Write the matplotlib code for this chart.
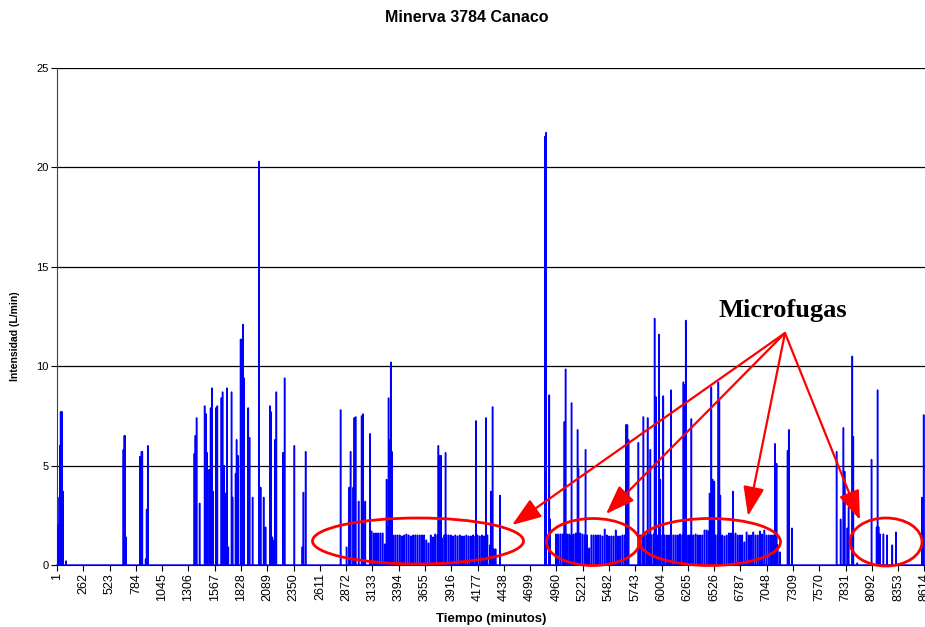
import matplotlib
matplotlib.use("Agg")
import matplotlib.pyplot as plt
from matplotlib.patches import Ellipse, FancyArrowPatch

# ---------------- data ----------------
title = "Minerva 3784 Canaco"
x_label = "Tiempo (minutos)"
y_label = "Intensidad (L/min)"
note_text = "Microfugas"

x_tick_labels = [1, 262, 523, 784, 1045, 1306, 1567, 1828, 2089, 2350, 2611,
                 2872, 3133, 3394, 3655, 3916, 4177, 4438, 4699, 4960, 5221,
                 5482, 5743, 6004, 6265, 6526, 6787, 7048, 7309, 7570, 7831,
                 8092, 8353, 8614]
y_ticks = [0, 5, 10, 15, 20, 25]

# consumption events (minute, L/min)
spike_minutes = [11, 21, 28, 35, 43, 48, 58, 88,
                 657, 667, 674, 683, 822, 837, 845, 879, 889, 901,
                 1362, 1372, 1385, 1415, 1465, 1478, 1488, 1510, 1524, 1537,
                 1547, 1577, 1590, 1630, 1643, 1657, 1670, 1686, 1699, 1732,
                 1742, 1772, 1782, 1795, 1822, 1832, 1845, 1855, 1897, 1911,
                 1941, 2004, 2021, 2051, 2070, 2113, 2123, 2136, 2153, 2163,
                 2176, 2243, 2259, 2355, 2434, 2445, 2468,
                 2815, 2874, 2900, 2914, 2940, 2950, 2964, 2994, 3024, 3037,
                 3059, 3106, 3271, 3281, 3291, 3304, 3314, 3324,
                 3785, 3798, 3811, 3857, 4159, 4258, 4272, 4297, 4307, 4317,
                 4324, 4337, 4354, 4397,
                 4844, 4854, 4886, 4893, 5036, 5049, 5108, 5168, 5176, 5247,
                 5649, 5662, 5674, 5771, 5821, 5864, 5890, 5933, 5947, 5977,
                 5988, 6018, 6095, 6218, 6231, 6243, 6297, 6479, 6495, 6509,
                 6525, 6565, 6575, 6585, 6711,
                 7128, 7144, 7253, 7266, 7296,
                 7740, 7780, 7807, 7820, 7846, 7859, 7895, 7905, 7945,
                 8087, 8137, 8147, 8157, 8171, 8204, 8240, 8292, 8329,
                 8588, 8605]
spike_values = [2.0, 3.4, 6.0, 7.7, 7.7, 7.7, 3.7, 0.2,
                5.8, 6.5, 6.5, 1.4, 5.45, 5.7, 5.7, 0.3, 2.8, 6.0,
                5.6, 6.5, 7.4, 3.1, 8.0, 7.6, 5.65, 4.8, 7.9, 8.9,
                3.7, 7.9, 8.0, 8.4, 8.7, 5.0, 3.6, 8.9, 0.9, 8.7,
                3.4, 4.6, 6.3, 5.5, 11.35, 11.35, 12.1, 9.4, 7.9, 6.4,
                3.4, 20.3, 3.9, 3.4, 1.9, 8.0, 7.7, 1.4, 1.25, 6.3,
                8.7, 5.65, 9.4, 6.0, 0.9, 3.65, 5.7,
                7.8, 0.9, 3.9, 5.7, 3.9, 7.4, 7.45, 3.2, 7.5, 7.6,
                3.2, 6.6, 4.3, 1.9, 8.4, 6.3, 10.2, 5.7,
                6.0, 5.5, 5.5, 5.65, 7.25, 7.4, 1.5, 1.0, 3.7, 3.2,
                7.95, 0.8, 0.8, 3.5,
                21.55, 21.75, 8.55, 2.3, 7.2, 9.85, 8.15, 6.8, 4.85, 5.8,
                7.05, 7.05, 6.3, 6.15, 7.45, 7.4, 5.8, 12.4, 8.45, 11.6,
                4.3, 8.5, 8.8, 9.2, 9.05, 12.3, 7.35, 3.6, 8.95, 4.3,
                4.2, 9.2, 8.3, 3.5, 3.7,
                6.1, 5.1, 5.75, 6.8, 1.85,
                5.7, 2.3, 6.9, 4.7, 1.85, 2.9, 10.5, 6.45, 0.1,
                5.3, 1.9, 8.8, 1.9, 1.55, 1.55, 1.5, 1.0, 1.65,
                3.4, 7.55]

# micro-leak pulses, first group (about 3100-4250 min)
leak1_minutes = [3122, 3144, 3166, 3188, 3210, 3232, 3254,
                 3336, 3358, 3380, 3402, 3424, 3446, 3468, 3490, 3512, 3534,
                 3556, 3578, 3600, 3622, 3644, 3666, 3688, 3710, 3732, 3754,
                 3776, 3822, 3844, 3866, 3888, 3910, 3932, 3954, 3976, 3998,
                 4020, 4042, 4064, 4086, 4108, 4130, 4152, 4174, 4196, 4218,
                 4240]
leak1_values = [1.7, 1.6, 1.6, 1.6, 1.6, 1.6, 1.05,
                1.5, 1.5, 1.5, 1.5, 1.45, 1.5, 1.55, 1.5, 1.45, 1.5,
                1.5, 1.5, 1.5, 1.5, 1.5, 1.25, 1.1, 1.5, 1.4, 1.55,
                1.5, 1.35, 1.5, 1.5, 1.5, 1.5, 1.45, 1.5, 1.45, 1.5,
                1.45, 1.45, 1.5, 1.45, 1.45, 1.5, 1.45, 1.5, 1.45, 1.5,
                1.45]

# second group (about 4950-5650 min)
leak2_minutes = [4953, 4975, 4997, 5019, 5041, 5063, 5085, 5107, 5129, 5151,
                 5173, 5195, 5217, 5239, 5261, 5283, 5305, 5327, 5349, 5371,
                 5393, 5415, 5437, 5459, 5481, 5503, 5525, 5547, 5569, 5591,
                 5613, 5635]
leak2_values = [1.55, 1.55, 1.55, 1.55, 1.5, 1.55, 1.55, 1.5, 1.55, 1.6,
                1.55, 1.6, 1.55, 1.5, 1.5, 0.85, 1.5, 1.5, 1.5, 1.5,
                1.5, 1.45, 1.8, 1.5, 1.45, 1.45, 1.45, 1.75, 1.45, 1.45,
                1.5, 1.5]

# third group (about 5790-7180 min)
leak3_minutes = [5790, 5812, 5834, 5856, 5878, 5900, 5922, 5944, 5966, 5988,
                 6010, 6032, 6054, 6076, 6098, 6120, 6142, 6164, 6186, 6208,
                 6230, 6252, 6274, 6296, 6318, 6340, 6362, 6384, 6406, 6428,
                 6450, 6472, 6494, 6516, 6538, 6560, 6582, 6604, 6626, 6648,
                 6670, 6692, 6714, 6736, 6758, 6780, 6802, 6824, 6846, 6868,
                 6890, 6912, 6934, 6956, 6978, 7000, 7022, 7044, 7066, 7088,
                 7110, 7132, 7154, 7176]
leak3_values = [1.5, 1.5, 1.55, 1.5, 1.5, 1.5, 1.55, 1.5, 1.5, 1.5,
                1.5, 1.5, 1.5, 1.5, 1.55, 1.5, 1.5, 1.5, 1.55, 1.5,
                1.6, 1.5, 1.5, 1.5, 1.5, 1.55, 1.5, 1.5, 1.5, 1.75,
                1.75, 1.7, 1.55, 1.5, 1.5, 1.5, 1.5, 1.5, 1.45, 1.5,
                1.6, 1.6, 1.55, 1.6, 1.5, 1.5, 1.5, 1.15, 1.65, 1.5,
                1.5, 1.65, 1.5, 1.5, 1.7, 1.55, 1.75, 1.5, 1.5, 1.5,
                1.5, 1.0, 1.0, 0.65]

# ---------------- build the series ----------------
PULSE = 5          # minutes each event lasts
X_MIN, X_MAX = 1, 8620

events = sorted(zip(spike_minutes + leak1_minutes + leak2_minutes + leak3_minutes,
                    spike_values + leak1_values + leak2_values + leak3_values))
t = [X_MIN]
q = [0.0]
for m, v in events:
    t.extend([m, m, m + PULSE, m + PULSE])
    q.extend([0.0, v, v, 0.0])
t.append(X_MAX)
q.append(0.0)

# ---------------- figure ----------------
W, H = 925, 627
plt.rcParams['font.family'] = ['Liberation Sans', 'DejaVu Sans']
fig = plt.figure(figsize=(W / 100, H / 100), dpi=100)


def fx(px):
    return px / W


def fy(py):
    return 1 - py / H


ax_l, ax_r, ax_t, ax_b = 57, 925, 68, 565
ax = fig.add_axes([fx(ax_l), fy(ax_b), fx(ax_r - ax_l), (ax_b - ax_t) / H])

for g in y_ticks[1:]:
    ax.axhline(g, color='black', lw=0.9, zorder=1)

ax.plot(t, q, color='#0000FF', lw=1.0, zorder=3, clip_on=False,
        solid_joinstyle='miter')

ax.set_xlim(X_MIN, X_MAX)
ax.set_ylim(0, 25)
ax.set_yticks(y_ticks)
ax.set_yticklabels([str(v) for v in y_ticks], fontsize=8)
ax.set_xticks(x_tick_labels)
ax.set_xticklabels([str(v) for v in x_tick_labels], rotation=90, fontsize=9)
ax.tick_params(axis='both', direction='out', length=4, width=0.8, color='black',
               pad=2)
for s in ['top', 'right']:
    ax.spines[s].set_visible(False)
ax.spines['left'].set_color('#404040')
ax.spines['bottom'].set_color('black')
ax.patch.set_visible(False)

fig.text(fx(467), fy(18), title, ha='center', va='center', fontsize=11.5,
         fontweight='bold')
fig.text(fx(491), fy(619), x_label, ha='center', va='center', fontsize=9.5,
         fontweight='bold')
fig.text(fx(15), fy(336), y_label, ha='center', va='center', fontsize=7.5,
         fontweight='bold', rotation=90)

# ---------------- annotation ----------------
fig.text(fx(783), fy(311), note_text, ha='center', va='center', fontsize=19,
         fontweight='bold', family=['Liberation Serif', 'DejaVu Serif'])

ellipses = [(418, 541, 211, 46), (593, 542, 93, 47), (710, 542, 141, 47),
            (886, 542, 72, 48)]
for cx, cy, w, h in ellipses:
    fig.add_artist(Ellipse((fx(cx), fy(cy)), w / W, h / H,
                           transform=fig.transFigure, fill=False,
                           edgecolor='#FF0000', lw=2.0, zorder=10))

origin = (785, 333)
tips = [(512, 525), (606, 514), (748, 516), (860, 520)]
for tx, ty in tips:
    fig.add_artist(FancyArrowPatch(
        posA=(fx(origin[0]), fy(origin[1])), posB=(fx(tx), fy(ty)),
        transform=fig.transFigure,
        arrowstyle='-|>,head_length=1.8,head_width=0.65', mutation_scale=10,
        color='#FF0000', lw=1.6, shrinkA=0, shrinkB=0, zorder=11))

fig.savefig("out.png", dpi=100)
